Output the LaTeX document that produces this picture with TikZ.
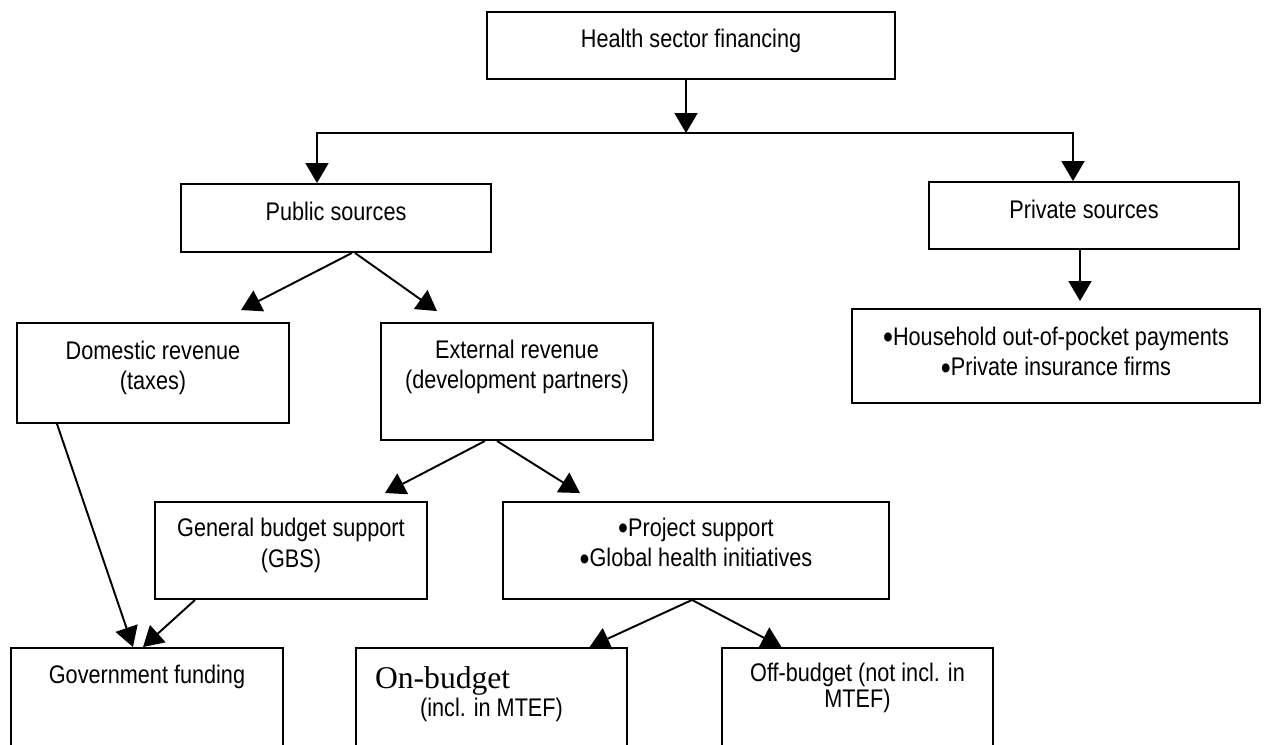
\documentclass[tikz,border=0pt]{standalone}
\usepackage{fontspec}
\setmainfont{Liberation Sans}[FakeStretch=0.85]
\newfontfamily\serifrm{Liberation Serif}
\newcommand{\bul}{\raisebox{-2pt}{\fontsize{19}{19}\selectfont\textbullet}}
\usetikzlibrary{arrows.meta,positioning,calc}

\begin{document}
\begin{tikzpicture}[
    x=0.02cm, y=-0.02cm,
    box/.style={rectangle, draw, line width=1.1pt, minimum width=5.44cm, inner sep=0pt},
    txt/.style={anchor=center, align=center, inner sep=0pt, font=\fontsize{14.5}{17.5}\selectfont},
    arrow/.style={-{Triangle[width=0.46cm, length=0.4cm]}, line width=1.1pt}
]
    \clip (0,0) rectangle (1264,744);

    % Top level
    \node[box, minimum width=8.16cm, minimum height=1.34cm,
          label={[txt, yshift=0.1cm]center:Health sector financing}] (hsf) at (691,45.5) {};
    \coordinate (split) at (686,133);

    % Public and private
    \node[box, minimum width=6.2cm, minimum height=1.36cm,
          label={[txt, yshift=0.14cm]center:Public sources}] (pub) at (336,218) {};
    \node[box, minimum width=6.2cm, minimum height=1.34cm,
          label={[txt, yshift=0.13cm]center:Private sources}] (prv) at (1084,215.5) {};
    \node[box, minimum width=8.16cm, minimum height=1.88cm,
          label={[txt, yshift=0.06cm]center:\bul Household out-of-pocket payments\\\bul Private insurance firms}] (hh) at (1056,356) {};

    % Revenue
    \node[box, minimum height=2cm,
          label={[txt, yshift=0.1cm]center:Domestic revenue\\(taxes)}] (dom) at (153,373) {};
    \node[box, minimum height=2.34cm,
          label={[txt, yshift=0.29cm]center:External revenue\\(development partners)}] (ext) at (517,381.5) {};

    % Support
    \node[box, minimum height=1.94cm,
          label={[txt, yshift=0.1cm]center:General budget support\\(GBS)}] (gbs) at (291,550.5) {};
    \node[box, minimum width=7.72cm, minimum height=1.94cm,
          label={[txt, yshift=0.13cm]center:\bul Project support\\\bul Global health initiatives}] (prj) at (696,550.5) {};

    % Bottom level
    \node[box, minimum height=2.4cm,
          label={[txt, yshift=0.63cm]center:Government funding}] (gov) at (147,708) {};
    \node[box, minimum width=5.42cm, minimum height=2.4cm,
          label={[txt, yshift=0.28cm]center:\makebox[4.66cm][l]{\serifrm\fontsize{18}{20}\selectfont On-budget}\\[-1.5pt](incl. in MTEF)}] (onb) at (491.5,708) {};
    \node[box, minimum width=5.42cm, minimum height=2.4cm,
          label={[txt, yshift=0.4cm]center:Off-budget (not incl. in\\[-2.7pt]MTEF)}] (offb) at (857.5,708) {};

    % Arrows - split
    \draw[arrow] (hsf.south -| split) -- (split);
    \draw[arrow] (split) -| ($(pub.north)+(-19,0)$);
    \draw[arrow] (split) -| ($(prv.north)+(-11,0)$);
    \draw[arrow] ($(prv.south)+(-4,0)$) -- ($(hh.north)+(24,-7)$);

    % Arrows - public side
    \draw[arrow] ($(pub.south)+(16,0)$) -- ($(dom.north)+(88,-12)$);
    \draw[arrow] ($(pub.south)+(19,0)$) -- ($(ext.north)+(-80,-11)$);
    \draw[arrow] ($(ext.south)+(-32,0)$) -- ($(gbs.north)+(94,-8)$);
    \draw[arrow] ($(ext.south)+(-20,0)$) -- ($(prj.north)+(-116,-8)$);
    \draw[arrow] ($(dom.south)+(-96,0)$) -- ($(gov.north)+(-14,0)$);
    \draw[arrow] ($(gbs.south)+(-96,0)$) -- ($(gov.north)+(-4,0)$);
    \draw[arrow] ($(prj.south)+(-4,0)$) -- ($(onb.north)+(98,0)$);
    \draw[arrow] ($(prj.south)+(-4,0)$) -- ($(offb.north)+(-76,0)$);
\end{tikzpicture}
\end{document}
